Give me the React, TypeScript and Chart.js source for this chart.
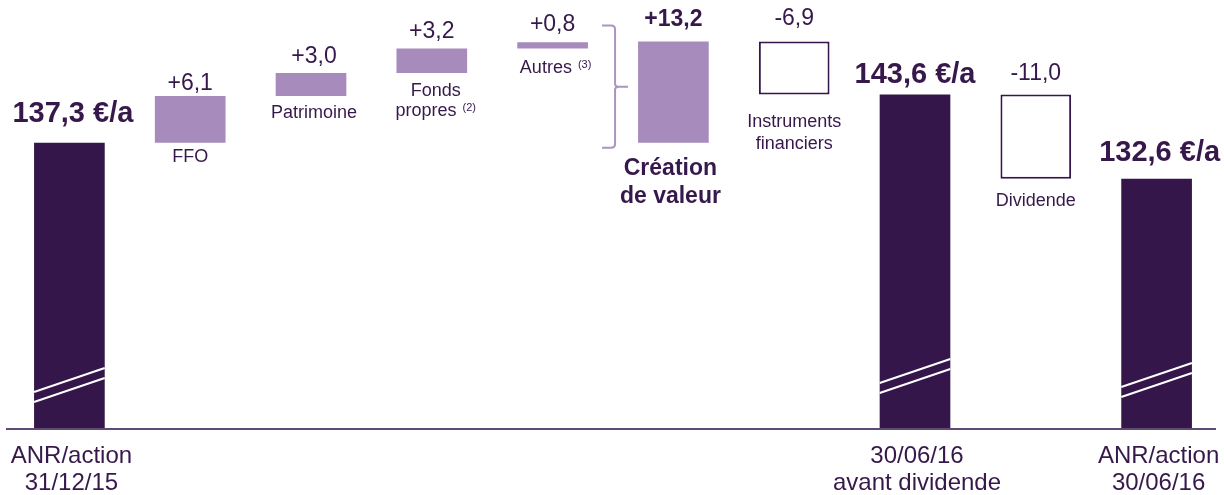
import { useEffect, useRef } from "react";
import { Chart, registerables } from "chart.js";

Chart.register(...registerables);

// ---------- data ----------
const categories = [
  "ANR/action 31/12/15",
  "FFO",
  "Patrimoine",
  "Fonds propres",
  "Autres",
  "Création de valeur",
  "Instruments financiers",
  "30/06/16 avant dividende",
  "Dividende",
  "ANR/action 30/06/16",
];
const barStart = [100, 137.3, 143.4, 146.4, 149.6, 137.3, 150.5, 100, 143.6, 100];
const barEnd = [137.3, 143.4, 146.4, 149.6, 150.4, 150.5, 143.6, 143.6, 132.6, 132.6];
const barKinds = ["total", "gain", "gain", "gain", "gain", "gain", "loss", "total", "loss", "total"];
const valueLabels = ["137,3 €/a", "+6,1", "+3,0", "+3,2", "+0,8", "+13,2", "-6,9", "143,6 €/a", "-11,0", "132,6 €/a"];
const categoryLabels: string[][] = [
  [],
  ["FFO"],
  ["Patrimoine"],
  ["Fonds", "propres"],
  ["Autres"],
  ["Création", "de valeur"],
  ["Instruments", "financiers"],
  [],
  ["Dividende"],
  [],
];
const footnotes = ["", "", "", "(2)", "(3)", "", "", "", "", ""];
const axisLabels: string[][] = [
  ["ANR/action", "31/12/15"],
  [],
  [],
  [],
  [],
  [],
  [],
  ["30/06/16", "avant dividende"],
  [],
  ["ANR/action", "30/06/16"],
];
const Y_MIN = 100;
const Y_MAX = 155;

// ---------- styles ----------
const DARK = "#35164a";
const LIGHT = "#a78bbd";
const TEXT = "#36184b";
const AXIS = "#5f4a73";
const BRACE = "#ab93c2";
const FONT = '"Liberation Sans", Arial, sans-serif';

const valueOffset = [21, 6, 10, 10, 11, 16, 17, 11, 14, 18];
const valueDx = [3.5, 0, 3, 0, 0, 0, 0, 0, 0, 3];
const catOffsets: number[][] = [[], [19], [22], [23, 43], [25], [32, 60], [33, 55], [], [27], []];
const catDx = [0, 0, 3, 4, 3, -3, 0, 0, 0, 0];
const breakOffset = [37, 0, 0, 0, 0, 0, 0, 46, 0, 42];

const overlay = {
  id: "overlay",
  afterDatasetsDraw(chart: any) {
    const ctx: CanvasRenderingContext2D = chart.ctx;
    const x = chart.scales.x;
    const y = chart.scales.y;
    const meta = chart.getDatasetMeta(0);
    const bottom = y.getPixelForValue(Y_MIN);
    ctx.save();

    // break marks on total bars
    meta.data.forEach((bar: any, i: number) => {
      if (barKinds[i] !== "total") return;
      const half = bar.width / 2;
      const l = bar.x - half;
      const r = bar.x + half;
      const ly = bottom - breakOffset[i];
      ctx.strokeStyle = "#ffffff";
      ctx.lineWidth = 2;
      for (const d of [0, 10]) {
        ctx.beginPath();
        ctx.moveTo(l, ly + d);
        ctx.lineTo(r, ly + d - 24);
        ctx.stroke();
      }
    });

    // axis line
    ctx.strokeStyle = AXIS;
    ctx.lineWidth = 2;
    ctx.beginPath();
    ctx.moveTo(6, bottom);
    ctx.lineTo(1216, bottom);
    ctx.stroke();

    ctx.fillStyle = TEXT;
    ctx.textBaseline = "alphabetic";

    // value labels
    valueLabels.forEach((lab, i) => {
      const top = y.getPixelForValue(Math.max(barStart[i], barEnd[i]));
      const cx = x.getPixelForValue(i) + valueDx[i];
      if (barKinds[i] === "total") ctx.font = `bold 29px ${FONT}`;
      else if (i === 5) ctx.font = `bold 23px ${FONT}`;
      else ctx.font = `23px ${FONT}`;
      ctx.textAlign = "center";
      ctx.fillText(lab, cx, top - valueOffset[i]);
    });

    // category labels
    categoryLabels.forEach((lines, i) => {
      if (!lines.length) return;
      const low = y.getPixelForValue(Math.min(barStart[i], barEnd[i]));
      const cx = x.getPixelForValue(i) + catDx[i];
      const mainFont = i === 5 ? `bold 23px ${FONT}` : `18px ${FONT}`;
      lines.forEach((line, j) => {
        const by = low + catOffsets[i][j];
        const isLast = j === lines.length - 1;
        if (isLast && footnotes[i]) {
          ctx.font = mainFont;
          const w1 = ctx.measureText(line).width;
          ctx.font = `11px ${FONT}`;
          const w2 = ctx.measureText(footnotes[i]).width;
          const gap = 6;
          const start = cx - (w1 + gap + w2) / 2;
          ctx.textAlign = "left";
          ctx.font = mainFont;
          ctx.fillText(line, start, by);
          ctx.font = `11px ${FONT}`;
          ctx.fillText(footnotes[i], start + w1 + gap, by - 5);
        } else {
          ctx.font = mainFont;
          ctx.textAlign = "center";
          ctx.fillText(line, cx, by);
        }
      });
    });

    // axis (bottom) labels
    ctx.font = `24px ${FONT}`;
    ctx.textAlign = "center";
    axisLabels.forEach((lines, i) => {
      if (!lines.length) return;
      const cx = x.getPixelForValue(i) + 2;
      lines.forEach((line, j) => {
        ctx.fillText(line, cx, bottom + 34 + j * 27);
      });
    });

    // brace around the value-creation components
    const cb = meta.data[5];
    const bl = cb.x - cb.width / 2;
    const bTop = y.getPixelForValue(barEnd[5]) - 16;
    const bBot = y.getPixelForValue(barStart[5]) + 5;
    const mid = (bTop + bBot) / 2;
    const xl = bl - 36;
    const xv = bl - 23;
    const xp = bl - 10;
    ctx.strokeStyle = BRACE;
    ctx.lineWidth = 2;
    ctx.beginPath();
    ctx.moveTo(xl, bTop);
    ctx.lineTo(xv - 4, bTop);
    ctx.quadraticCurveTo(xv, bTop, xv, bTop + 4);
    ctx.lineTo(xv, mid - 3);
    ctx.quadraticCurveTo(xv, mid, xv + 4, mid);
    ctx.lineTo(xp, mid);
    ctx.moveTo(xv + 4, mid);
    ctx.quadraticCurveTo(xv, mid, xv, mid + 3);
    ctx.lineTo(xv, bBot - 4);
    ctx.quadraticCurveTo(xv, bBot, xv - 4, bBot);
    ctx.lineTo(xl, bBot);
    ctx.stroke();

    ctx.restore();
  },
};

export default function App() {
  const ref = useRef<HTMLCanvasElement | null>(null);
  useEffect(() => {
    if (!ref.current) return;
    const chart = new Chart(ref.current, {
      type: "bar",
      data: {
        labels: categories,
        datasets: [
          {
            data: categories.map((_, i) => [barStart[i], barEnd[i]]) as any,
            backgroundColor: barKinds.map((k) => (k === "total" ? DARK : k === "gain" ? LIGHT : "#ffffff")),
            borderColor: barKinds.map((k) => (k === "loss" ? DARK : "rgba(0,0,0,0)")),
            borderWidth: barKinds.map((k) => (k === "loss" ? 2 : 0)),
            borderSkipped: false,
            barPercentage: 0.585,
            categoryPercentage: 1,
          },
        ],
      },
      options: {
        responsive: false,
        animation: false,
        devicePixelRatio: 1,
        layout: { padding: { left: 9, right: 7, top: 7, bottom: 66 } },
        scales: {
          x: { display: false },
          y: { display: false, min: Y_MIN, max: Y_MAX },
        },
        plugins: { legend: { display: false }, tooltip: { enabled: false } },
      },
      plugins: [overlay],
    });
    return () => chart.destroy();
  }, []);
  return (
    <div style={{ position: "fixed", left: 0, top: 0, width: 1224, height: 495, background: "#ffffff" }}>
      <canvas ref={ref} width={1224} height={495} style={{ display: "block" }} />
    </div>
  );
}
